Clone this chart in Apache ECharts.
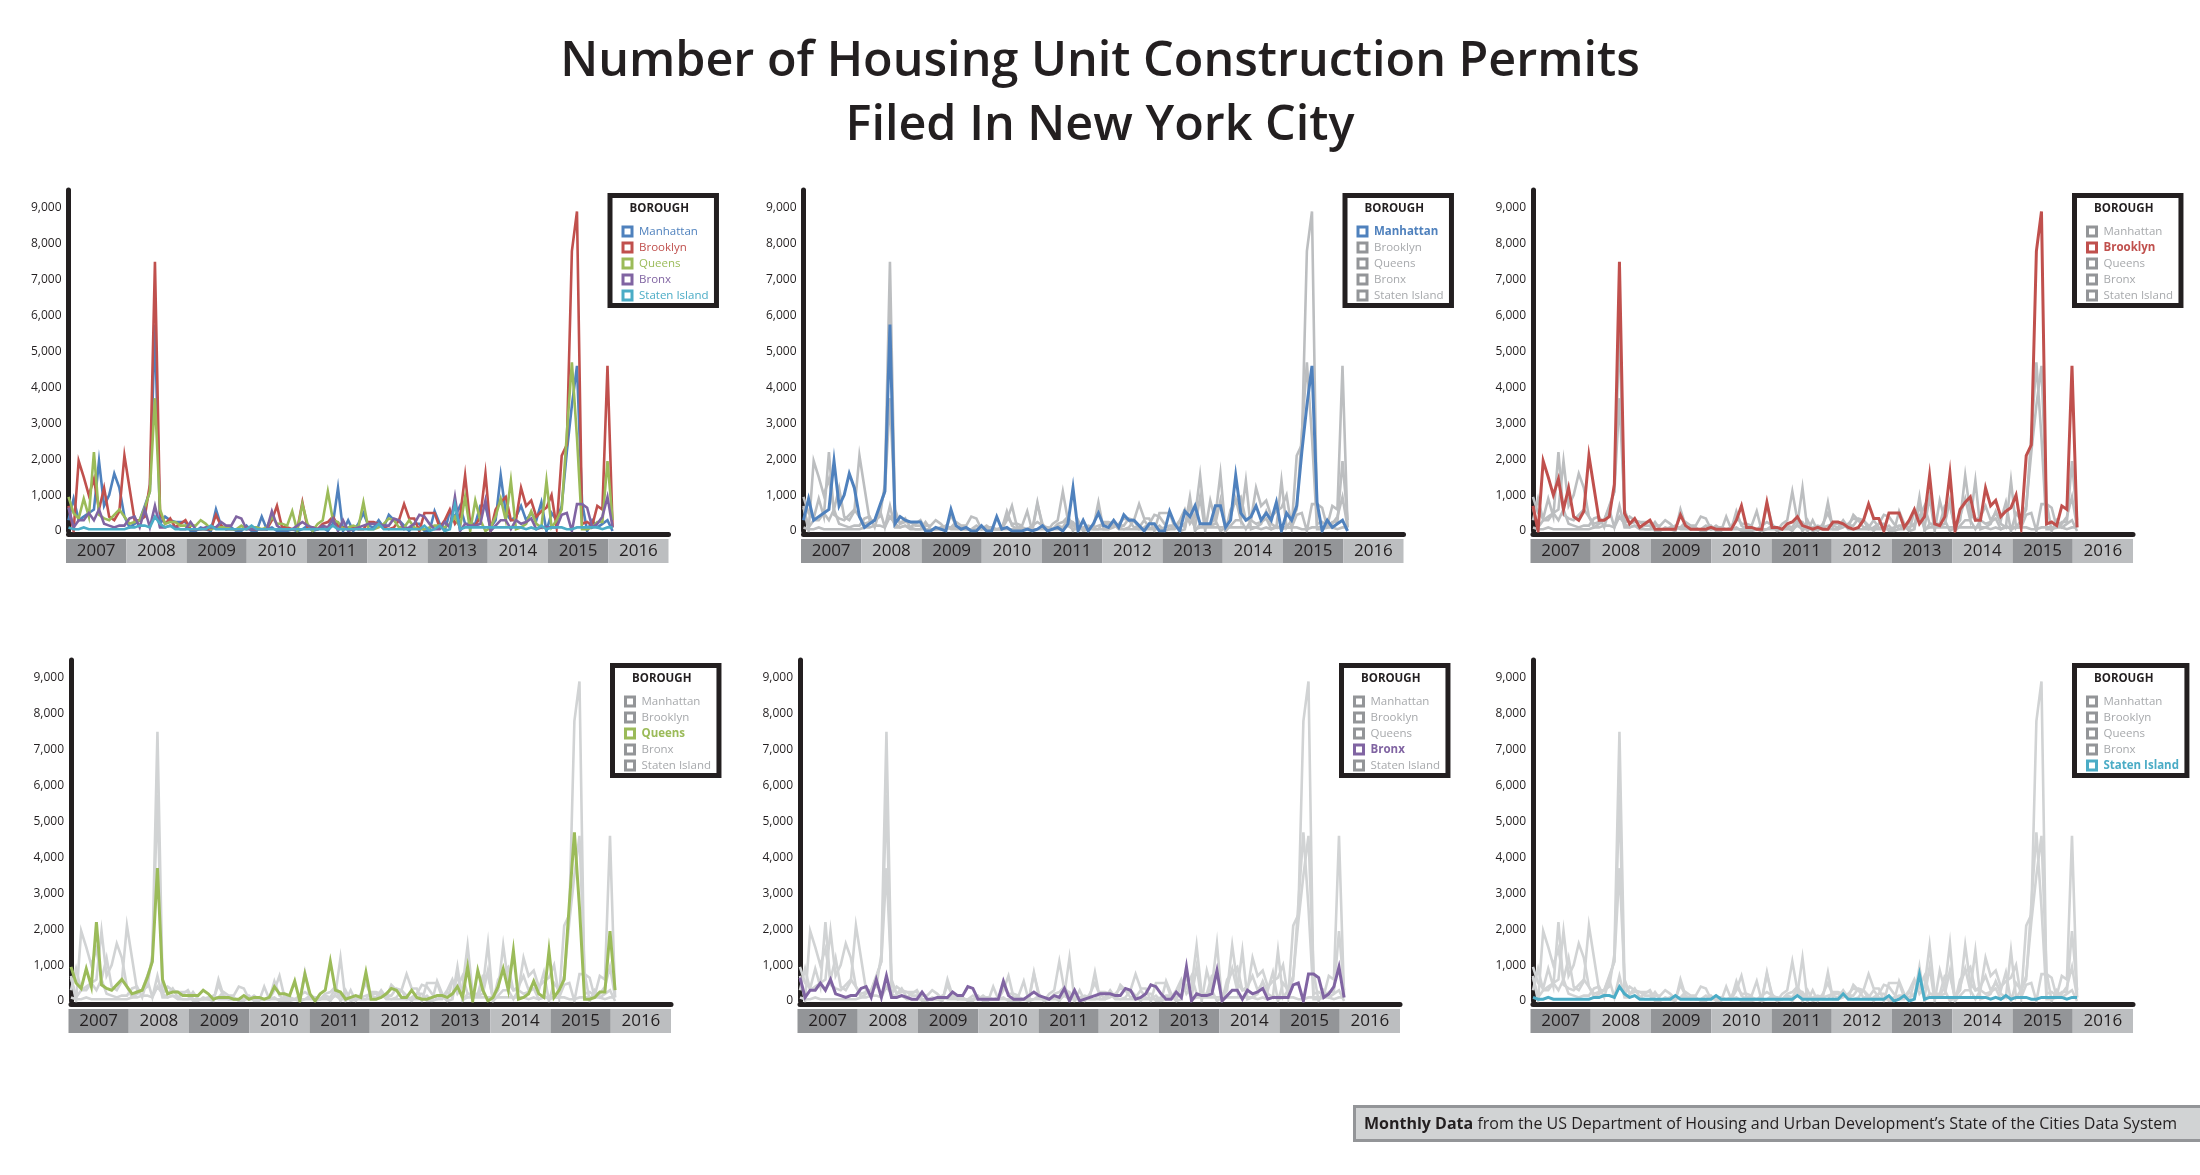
<!DOCTYPE html>
<html><head><meta charset="utf-8">
<script src="https://cdn.jsdelivr.net/npm/echarts@6/dist/echarts.min.js"></script>
<style>html,body{margin:0;padding:0;background:#fff}#c{width:2200px;height:1175px}</style>
</head><body><div id="c"></div><script>
const BOROUGHS = ['Manhattan', 'Brooklyn', 'Queens', 'Bronx', 'Staten Island'];
const COLORS = ['#4f81bd', '#c0504d', '#9bbb59', '#8064a2', '#4bacc6'];
const YEARS = ['2007', '2008', '2009', '2010', '2011', '2012', '2013', '2014', '2015', '2016'];
const Y_MAX = 9500, Y_STEP = 1000;

// monthly values, Jan 2007 .. Dec 2015
const manhattan = [300,900,300,400,500,600,1950,700,1000,1600,1200,400,
 100,200,300,700,1100,5750,200,400,300,250,250,250,
 0,0,100,50,0,600,150,50,100,0,0,150,
 0,0,400,50,100,0,0,0,50,0,50,150,
 0,50,100,0,200,1200,0,300,0,200,500,150,
 100,300,100,450,300,300,150,0,200,200,0,0,
 550,200,0,550,400,700,200,200,200,700,700,100,
 300,1550,500,300,400,700,300,500,300,800,0,500,
 300,700,2200,3500,4600,800,0,300,100,200,300,0];
const brooklyn = [700,0,1950,1500,1000,1450,600,1200,400,300,550,2100,
 1200,300,300,400,1300,7500,500,200,350,100,200,300,
 50,50,50,50,50,450,150,50,50,50,50,100,
 50,50,50,50,300,700,100,100,50,50,800,100,
 100,50,200,250,400,150,100,50,100,50,50,250,
 250,200,100,50,100,300,750,350,350,0,500,500,
 500,100,300,600,200,400,1550,200,150,400,1600,0,
 600,800,950,300,300,1200,700,850,400,550,650,1000,
 100,2100,2400,7800,8900,200,250,150,700,600,4600,100];
const queens = [950,500,350,900,400,2200,450,350,300,450,600,400,
 200,250,300,650,1100,3700,600,200,250,250,150,150,
 150,150,300,200,50,100,100,100,50,50,150,50,
 100,100,50,100,400,200,200,150,550,0,750,200,
 0,200,300,1100,300,250,50,100,150,100,800,50,
 50,100,200,350,300,100,100,300,100,50,50,100,
 150,150,100,200,400,100,950,0,850,300,0,100,
 400,900,300,1400,50,100,200,550,200,100,1400,100,
 300,600,2700,4700,2600,50,50,100,250,250,1950,300];
const bronx = [650,100,300,300,500,300,600,200,150,100,150,150,
 350,400,100,600,100,700,100,100,150,100,50,50,
 250,50,50,100,100,100,250,150,150,400,350,50,
 50,50,50,50,550,150,50,50,50,150,250,150,
 100,50,150,100,350,0,300,0,50,100,150,200,
 200,200,150,150,350,300,50,100,200,450,400,200,
 50,50,250,100,950,0,200,150,150,200,850,0,
 150,300,300,50,300,200,250,350,50,100,100,100,
 100,450,500,0,750,750,650,100,200,400,950,100];
const statenIsland = [100,50,50,100,50,50,50,50,50,50,50,50,
 100,100,150,150,100,400,200,100,150,50,50,50,
 50,50,50,50,150,50,50,50,50,50,50,50,
 150,50,50,50,50,50,50,50,50,50,50,50,
 50,50,50,50,150,50,50,50,50,50,50,50,
 50,200,50,50,50,50,50,50,50,50,150,0,
 50,150,0,50,750,50,100,100,100,100,100,100,
 100,100,100,100,100,100,50,100,50,150,50,100,
 100,100,50,50,100,100,100,100,100,50,100,100];
const SERIES = [manhattan, brooklyn, queens, bronx, statenIsland];

// month categories for the axis (Jan 2007 .. Nov 2016)
const MONTHS = [];
for (const y of YEARS) for (let m = 1; m <= 12; m++) MONTHS.push(y + '-' + String(m).padStart(2, '0'));
const AXIS_MONTHS = MONTHS.slice(0, 119);

const FONT = 'Open Sans';
const INK = '#231f20';
const PANELS = [
  { ax: 68.5, row: 0, hi: -1, grey: '#bcbec0' },
  { ax: 803.5, row: 0, hi: 0, grey: '#bcbec0' },
  { ax: 1533, row: 0, hi: 1, grey: '#bcbec0' },
  { ax: 71, row: 1, hi: 2, grey: '#d1d3d4' },
  { ax: 800, row: 1, hi: 3, grey: '#d1d3d4' },
  { ax: 1533, row: 1, hi: 4, grey: '#d1d3d4' }
];
const ROWS = [{ top: 190, zero: 531, legTop: 193 }, { top: 660, zero: 1001, legTop: 663 }];

const grid = [], xAxis = [], yAxis = [], series = [], legend = [], title = [];
const TITLE_LINES = ['Number of Housing Unit Construction Permits', 'Filed In New York City'];
TITLE_LINES.forEach((t, i) => title.push({
  text: t, left: 'center', top: 38 + i * 64, padding: 0,
  textStyle: { fontFamily: FONT, fontSize: 48.5, fontWeight: 600, color: INK, lineHeight: 48 }
}));
title.push({
  text: '{b|Monthly Data} from the US Department of Housing and Urban Development’s State of the Cities Data System',
  left: 1354, top: 1106, padding: [10, 40, 9, 10],
  backgroundColor: '#d1d3d4', borderColor: '#939598', borderWidth: 3,
  textStyle: { fontFamily: FONT, fontSize: 16, fontWeight: 'normal', color: INK,
    rich: { b: { fontFamily: FONT, fontSize: 16, fontWeight: 'bold', color: INK } } }
});

PANELS.forEach((p, pi) => {
  const r = ROWS[p.row];
  const gi = grid.length;
  grid.push({ left: p.ax, top: r.top, width: 600, height: r.zero - r.top });
  grid.push({ left: p.ax - 2.5, top: r.zero + 8, width: 602.5, height: 24 });
  xAxis.push({
    type: 'category', gridIndex: gi, data: AXIS_MONTHS, boundaryGap: false, offset: 3,
    axisLine: { onZero: false, lineStyle: { color: INK, width: 5 } },
    axisTick: { show: false }, axisLabel: { show: false }, splitLine: { show: false }
  });
  xAxis.push({
    type: 'category', gridIndex: gi + 1, data: YEARS, position: 'top', boundaryGap: true,
    axisLine: { show: false }, axisTick: { show: false },
    splitArea: { show: true, areaStyle: { color: ['#939598', '#bcbec0'] } },
    axisLabel: { inside: true, margin: 12, verticalAlign: 'middle', fontFamily: FONT, fontSize: 17, color: INK, interval: 0 }
  });
  yAxis.push({
    type: 'value', gridIndex: gi, min: 0, max: Y_MAX, interval: Y_STEP,
    axisLine: { show: true, lineStyle: { color: INK, width: 5 } },
    axisTick: { show: false }, splitLine: { show: false },
    axisLabel: { showMaxLabel: false, margin: 7, fontFamily: FONT, fontSize: 12, color: INK,
      formatter: v => (v % 1000 ? '' : v.toLocaleString('en-US')) }
  });
  yAxis.push({ type: 'value', gridIndex: gi + 1, show: false });

  BOROUGHS.forEach((b, bi) => {
    const active = p.hi === -1 || p.hi === bi;
    series.push({
      type: 'line', name: b, xAxisIndex: gi, yAxisIndex: gi, data: SERIES[bi],
      showSymbol: false, symbol: 'none', silent: true,
      z: p.hi === bi ? 4 : 2,
      lineStyle: { color: active ? COLORS[bi] : p.grey, width: p.hi === bi ? 3 : 2.6, join: 'miter' },
      itemStyle: { color: active ? COLORS[bi] : p.grey }
    });
  });

  const lx = p.ax + 539, ly = r.legTop;
  title.push({ text: 'BOROUGH', left: lx + 22, top: ly + 10, padding: 0,
    textStyle: { fontFamily: FONT, fontSize: 11.5, fontWeight: 'bold', color: INK } });
  legend.push({
    orient: 'vertical', left: lx + 2.5, top: ly + 2.5, padding: [30, 8, 4, 11.5],
    itemWidth: 9, itemHeight: 9, itemGap: 4, selectedMode: false,
    borderColor: INK, borderWidth: 5, backgroundColor: '#fff',
    textStyle: { fontFamily: FONT, fontSize: 11.5, padding: [0, 0, 0, 2] },
    data: BOROUGHS.map((b, bi) => {
      const active = p.hi === -1 || p.hi === bi;
      return {
        name: b, icon: 'rect',
        itemStyle: { color: '#fff', borderColor: active ? COLORS[bi] : '#939598', borderWidth: 3 },
        textStyle: { color: active ? COLORS[bi] : '#a7a9ac', fontWeight: p.hi === bi ? 'bold' : 'normal', fontFamily: FONT, fontSize: 11.5 }
      };
    })
  });
});

const chart = echarts.init(document.getElementById('c'), null, { renderer: 'canvas' });
chart.setOption({ animation: false, backgroundColor: '#fff', textStyle: { fontFamily: FONT },
  title, grid, xAxis, yAxis, series, legend });
</script></body></html>
